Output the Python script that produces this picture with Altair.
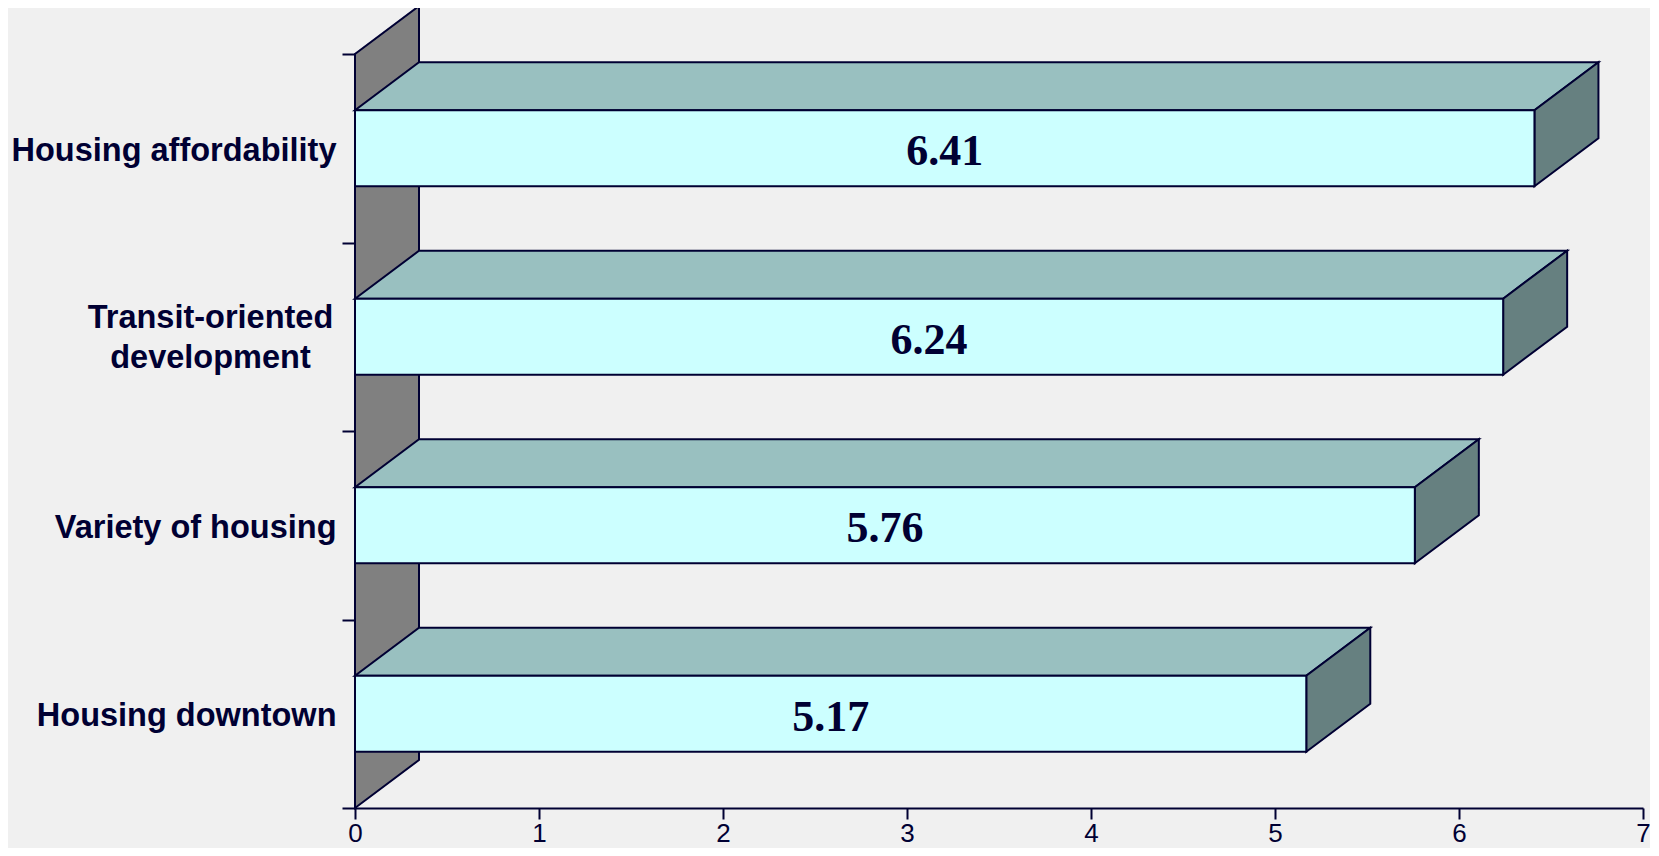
import json
import altair as alt
import pandas as pd

# ---- data ----
categories = ["Housing affordability", "Transit-oriented development",
              "Variety of housing", "Housing downtown"]
label_lines = [["Housing affordability"], ["Transit-oriented", "development"],
               ["Variety of housing"], ["Housing downtown"]]
values = [6.41, 6.24, 5.76, 5.17]
value_labels = ["6.41", "6.24", "5.76", "5.17"]
x_ticks = [0, 1, 2, 3, 4, 5, 6, 7]

# ---- style ----
NAVY = "#000033"
FRONT = "#CCFFFF"
TOP = "#99C0C0"
SIDE = "#668080"
WALL = "#808080"
BG = "#F0F0F0"

N = len(categories)
W, H = 1288, 754
DX = 64 / (W / 7.0)      # depth offset in x units
DY = 48 / (H / N)        # depth offset in y units
HALF = 38 / (H / N)      # half height of bar front face
BAND_PX = H / N

df = pd.DataFrame({"category": categories, "value": values, "text": value_labels})

xscale = alt.Scale(domain=[0, 7], nice=False, zero=False)
yscale = alt.Scale(domain=[0, N], nice=False, zero=False)

base = alt.Chart(df).transform_window(row="row_number()").transform_calculate(
    pos=f"{N} + 0.5 - datum.row"
)

labels_js = json.dumps(label_lines, ensure_ascii=False)
y_label_expr = f"datum.value < {N} ? {labels_js}[{N - 1} - datum.value] : ''"
multi = [N - 1 - i for i, l in enumerate(label_lines) if len(l) > 1]
multi_test = " || ".join(f"datum.value == {v}" for v in multi) or "false"

x_axis = alt.Axis(values=x_ticks, tickSize=11, tickWidth=2, tickColor=NAVY,
                  domainColor=NAVY, domainWidth=2, labelFont="Liberation Sans",
                  labelFontSize=26, labelColor=NAVY, labelPadding=1, grid=False,
                  title=None, labelFlush=False, format="d")
y_axis = alt.Axis(values=list(range(N + 1)), tickSize=13, tickWidth=2, tickColor=NAVY,
                  domainColor=NAVY, domainWidth=2, grid=False, title=None,
                  labelExpr=y_label_expr, labelOffset=-BAND_PX / 2 + 2,
                  labelFont="Liberation Sans", labelFontWeight="bold",
                  labelFontSize=32.5, labelColor=NAVY,
                  labelPadding={"condition": {"test": multi_test, "value": 132},
                                "value": 6},
                  labelLineHeight=40,
                  labelAlign={"condition": {"test": multi_test, "value": "center"},
                              "value": "right"},
                  labelBaseline={"condition": {"test": multi_test, "value": "line-bottom"},
                                 "value": "middle"},
                  labelOverlap=False, labelBound=False, labelLimit=600)


def X(field):
    return alt.X(field, scale=xscale, axis=x_axis)


def Y(field):
    return alt.Y(field, scale=yscale, axis=y_axis)


# back wall
wall = alt.Chart(alt.sequence(0, 2, as_="k")).transform_calculate(
    wx=f"datum.k * {DX}", wy=f"datum.k * {DY}", wy2=f"{N} + datum.k * {DY}"
).mark_area(orient="vertical", fill=WALL, stroke=NAVY, strokeWidth=2).encode(
    x=X("wx:Q"), y=Y("wy:Q"), y2="wy2:Q",
)

# top faces
top = base.transform_calculate(k="[0,1,2,3]").transform_flatten(["k"]).transform_calculate(
    tx=f"datum.k == 0 ? 0 : datum.k == 1 ? {DX} : datum.k == 2 ? datum.value : datum.value + {DX}",
    ty=f"datum.pos + {HALF} + (datum.k == 3 ? {DY} : 0)",
    ty2=f"datum.pos + {HALF} + (datum.k == 0 ? 0 : {DY})",
).mark_area(orient="vertical", fill=TOP, stroke=NAVY, strokeWidth=2).encode(
    x=X("tx:Q"), y=Y("ty:Q"), y2="ty2:Q", detail="category:N",
)

# right side faces
side = base.transform_calculate(k="[0,1]").transform_flatten(["k"]).transform_calculate(
    sx=f"datum.value + datum.k * {DX}",
    sy=f"datum.pos - {HALF} + datum.k * {DY}",
    sy2=f"datum.pos + {HALF} + datum.k * {DY}",
).mark_area(orient="vertical", fill=SIDE, stroke=NAVY, strokeWidth=2).encode(
    x=X("sx:Q"), y=Y("sy:Q"), y2="sy2:Q", detail="category:N",
)

# front faces
front = base.transform_calculate(
    x0="0", y0=f"datum.pos - {HALF}", y1=f"datum.pos + {HALF}"
).mark_rect(fill=FRONT, stroke=NAVY, strokeWidth=2).encode(
    x=X("x0:Q"), x2="value:Q", y=Y("y0:Q"), y2="y1:Q",
)

# value labels
text = base.transform_calculate(mid="datum.value / 2").mark_text(
    font="Liberation Serif", fontWeight="bold", fontSize=44, color=NAVY,
    align="center", baseline="middle", dy=4
).encode(
    x=X("mid:Q"), y=Y("pos:Q"), text="text:N",
)

chart = alt.layer(wall, top, side, front, text).properties(
    width=W, height=H, background=BG,
    padding={"left": 347, "top": 46, "right": 7, "bottom": 40},
    autosize=alt.AutoSizeParams(type="none"),
).configure_view(stroke=None)

chart.save("out.html", embed_options={"renderer": "svg", "actions": False})
